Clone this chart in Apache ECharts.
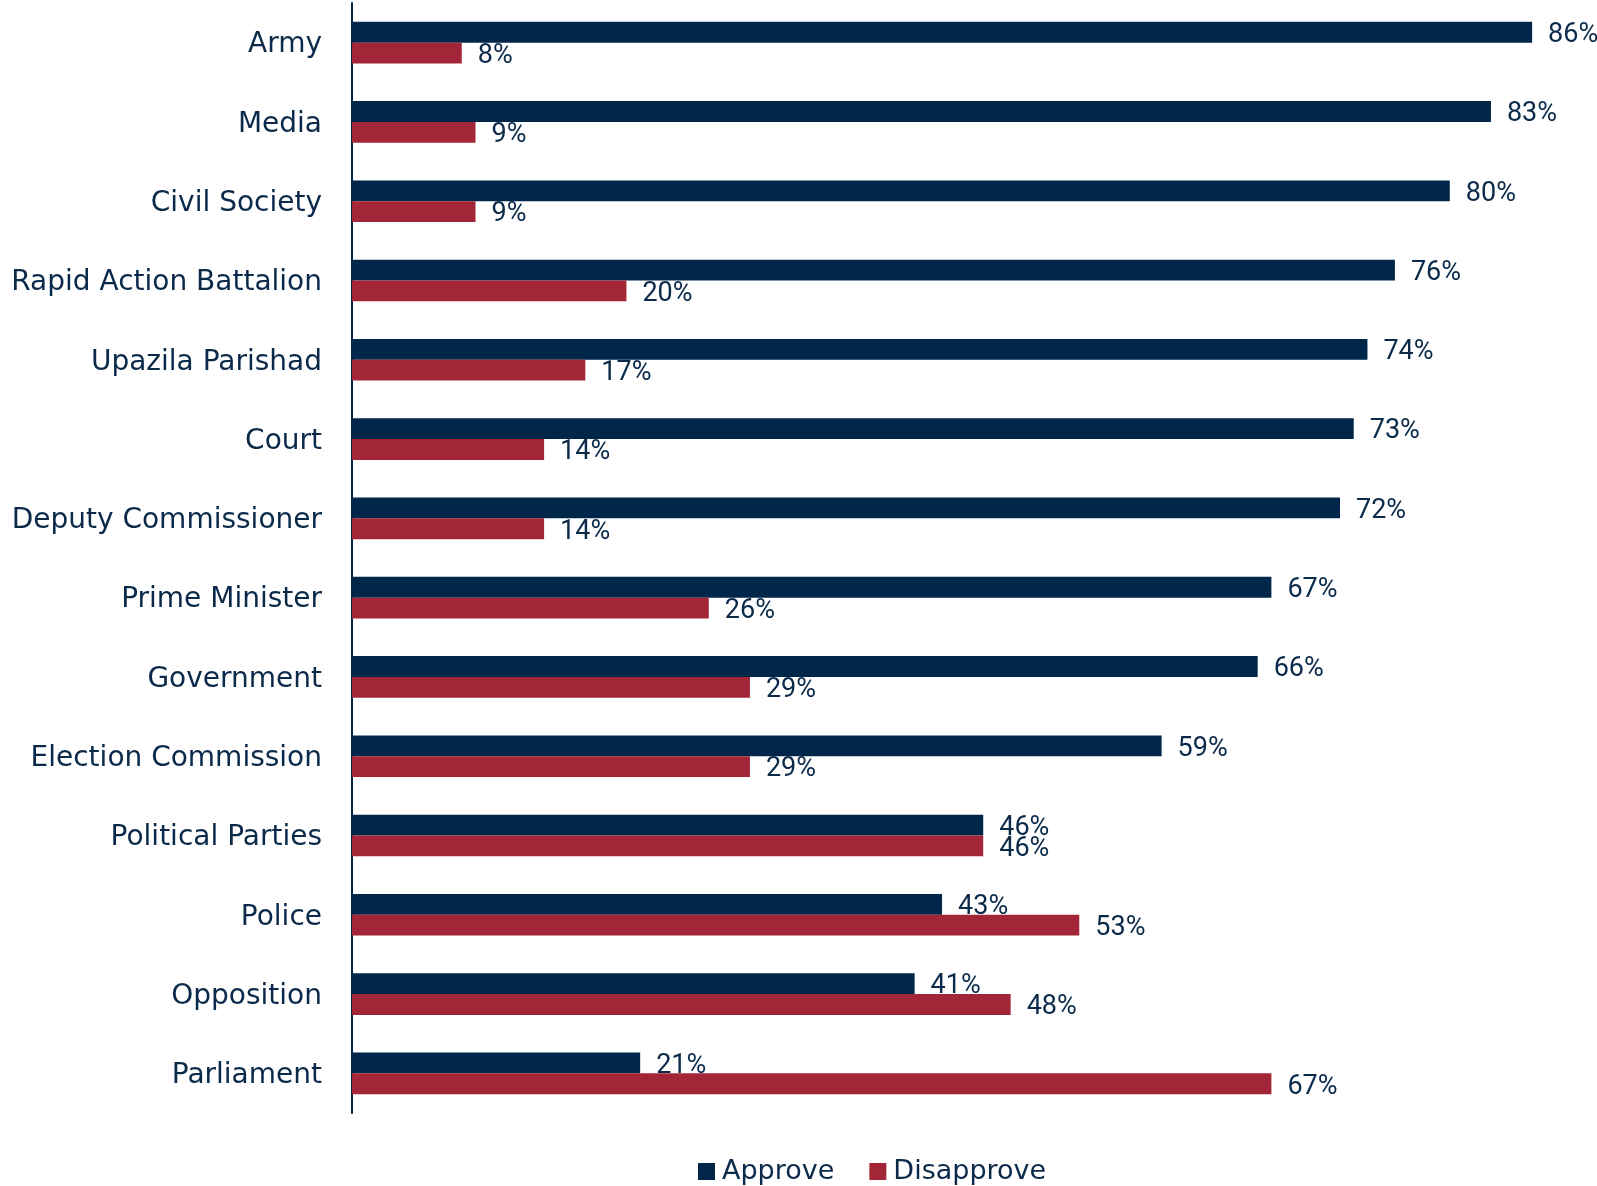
<!DOCTYPE html>
<html>
<head>
<meta charset="utf-8">
<script src="https://cdn.jsdelivr.net/npm/echarts@6/dist/echarts.min.js"></script>
<style>
html,body{margin:0;padding:0;background:#fff;}
#chart{width:1597px;height:1186px;}
</style>
</head>
<body>
<div id="chart"></div>
<script>
const categories = ["Army","Media","Civil Society","Rapid Action Battalion","Upazila Parishad","Court","Deputy Commissioner","Prime Minister","Government","Election Commission","Political Parties","Police","Opposition","Parliament"];
const approve = [86,83,80,76,74,73,72,67,66,59,46,43,41,21];
const disapprove = [8,9,9,20,17,14,14,26,29,29,46,53,48,67];
const seriesNames = ["Approve","Disapprove"];

const NAVY = "#002649";
const RED = "#A32638";
const TEXT = "#0B2A4A";
const catFont = "'DejaVu Sans', sans-serif";
const numFont = "'Liberation Sans Narrow', Roboto, sans-serif";

const chart = echarts.init(document.getElementById('chart'));
const labelCfg = {
  show: true, position: 'right', distance: 16, offset: [0, 3],
  formatter: p => p.value + '%',
  color: TEXT, fontSize: 27, fontFamily: numFont
};
chart.setOption({
  animation: false,
  grid: {left: 352, right: 10, top: 3, bottom: 73, containLabel: false},
  legend: {
    data: seriesNames, left: 693, top: 1153,
    itemWidth: 17, itemHeight: 17, itemGap: 35,
    icon: 'rect',
    textStyle: {color: TEXT, fontSize: 27, fontFamily: catFont, padding: [0,0,0,2]}
  },
  xAxis: {type: 'value', min: 0, max: 90, show: false, splitLine: {show: false}},
  yAxis: {
    type: 'category', data: categories, inverse: true,
    axisLine: {show: true, lineStyle: {color: NAVY, width: 2}},
    axisTick: {show: false},
    axisLabel: {
      color: TEXT, fontSize: 28, fontFamily: catFont, margin: 30,
      formatter: v => '{c|' + v + '}',
      rich: {c: {color: TEXT, fontSize: 28, fontFamily: catFont, padding: [5, 0, 0, 0]}}
    }
  },
  series: [
    {name: seriesNames[0], type: 'bar', data: approve, barGap: '0%', barCategoryGap: '47.5%',
     itemStyle: {color: NAVY}, label: labelCfg},
    {name: seriesNames[1], type: 'bar', data: disapprove, barGap: '0%', barCategoryGap: '47.5%',
     itemStyle: {color: RED}, label: labelCfg}
  ]
});
</script>
</body>
</html>
